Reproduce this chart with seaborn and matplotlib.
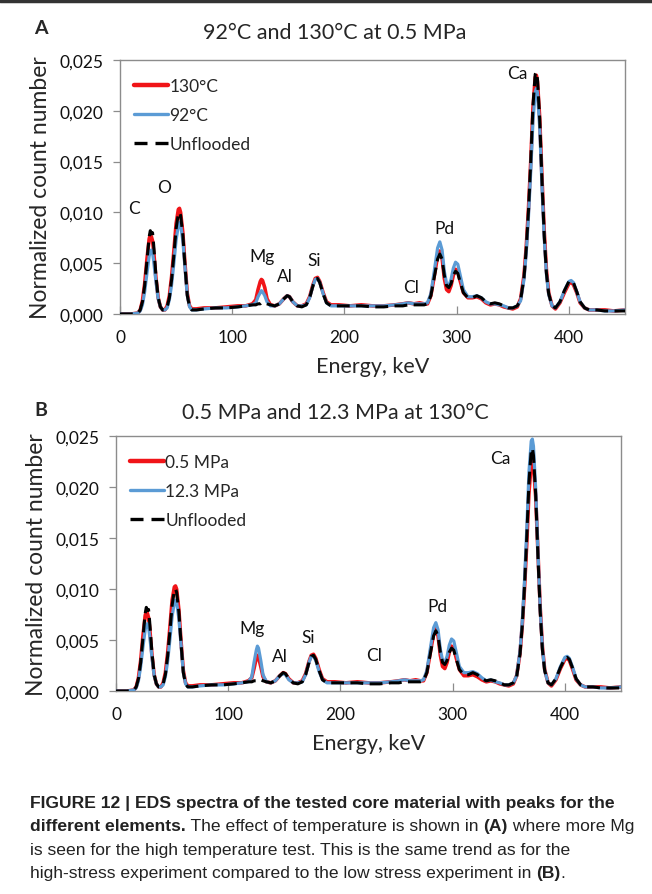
import matplotlib
matplotlib.use("Agg")
import matplotlib.pyplot as plt
from matplotlib.lines import Line2D
import seaborn as sns

sns.set_style("white")
plt.rcParams["font.family"] = ["Lato", "DejaVu Sans"]

# ---------------- data ----------------
energy_kev = [
    0, 10, 16, 18, 20, 22, 24, 26, 27, 28, 29, 30, 32, 34, 36, 38, 40,
    42, 44, 46, 48, 50, 52, 53, 54, 56, 58, 60, 62, 64, 68,
    75, 85, 95, 105, 112, 118,
    121, 123, 125, 126, 127, 129, 131, 134,
    138, 142, 146, 149, 151, 154,
    158, 162, 166, 169, 172, 174, 176, 178, 181, 184, 188,
    195, 205, 215, 225, 235, 245, 252, 257, 262, 267, 271,
    274, 277, 280, 283, 285, 287, 289, 291, 293, 295, 297, 299, 301, 303, 306, 310,
    314, 318, 322, 326, 330, 334, 338, 342, 346, 350, 354,
    357, 360, 362, 364, 366, 368, 370, 371, 372, 374, 376, 378, 380, 382, 385, 388,
    392, 396, 400, 402, 404, 407, 410, 414, 418, 425, 432, 440, 450,
]

unflooded = [
    0, 0, 0.0001, 0.0004, 0.0012, 0.0028, 0.0052, 0.0076, 0.0082, 0.0079, 0.0080, 0.0068, 0.0038, 0.0016, 0.0007, 0.0004, 0.0004,
    0.0007, 0.0016, 0.0034, 0.0058, 0.0084, 0.0099, 0.0100, 0.0097, 0.0078, 0.0046, 0.0018, 0.0007, 0.0004, 0.0004,
    0.0005, 0.0006, 0.0006, 0.0007, 0.0008, 0.0009,
    0.0009, 0.0010, 0.0010, 0.0011, 0.0011, 0.0011, 0.0010, 0.0009,
    0.0008, 0.0010, 0.0015, 0.0018, 0.0017, 0.0012,
    0.0008, 0.0007, 0.0009, 0.0016, 0.0028, 0.0034, 0.0035, 0.0031, 0.0020, 0.0011, 0.0008,
    0.0008, 0.0008, 0.0008, 0.0007, 0.0007, 0.0008, 0.0008, 0.0009, 0.0009, 0.0009, 0.0009,
    0.0010, 0.0018, 0.0036, 0.0054, 0.0059, 0.0054, 0.0038, 0.0028, 0.0026, 0.0030, 0.0038, 0.0042, 0.0040, 0.0032, 0.0021, 0.0016,
    0.0016, 0.0018, 0.0016, 0.0012, 0.0010, 0.0011, 0.0010, 0.0008, 0.0006, 0.0006, 0.0008,
    0.0014, 0.0036, 0.0064, 0.0102, 0.0150, 0.0205, 0.0236, 0.0238, 0.0231, 0.0192, 0.0132, 0.0078, 0.0040, 0.0020, 0.0008, 0.0006,
    0.0012, 0.0023, 0.0032, 0.0033, 0.0031, 0.0022, 0.0012, 0.0006, 0.0004, 0.0004, 0.0003, 0.0003, 0.0003,
]

# panel A: 130 °C and 92 °C at 0.5 MPa
temp_130c = [
    0, 0, 0.0001, 0.0004, 0.0013, 0.0030, 0.0054, 0.0074, 0.0078, 0.0076, 0.0072, 0.0062, 0.0036, 0.0016, 0.0007, 0.0004, 0.0004,
    0.0008, 0.0018, 0.0037, 0.0062, 0.0089, 0.0103, 0.0104, 0.0100, 0.0080, 0.0048, 0.0020, 0.0008, 0.0005, 0.0005,
    0.0006, 0.0006, 0.0007, 0.0008, 0.0008, 0.0010,
    0.0014, 0.0024, 0.0032, 0.0034, 0.0033, 0.0026, 0.0015, 0.0009,
    0.0008, 0.0010, 0.0015, 0.0018, 0.0017, 0.0012,
    0.0008, 0.0008, 0.0010, 0.0017, 0.0029, 0.0035, 0.0036, 0.0032, 0.0021, 0.0012, 0.0009,
    0.0009, 0.0008, 0.0009, 0.0008, 0.0008, 0.0009, 0.0010, 0.0011, 0.0010, 0.0011, 0.0010,
    0.0010, 0.0018, 0.0037, 0.0057, 0.0062, 0.0055, 0.0035, 0.0024, 0.0022, 0.0028, 0.0038, 0.0044, 0.0042, 0.0033, 0.0021, 0.0016,
    0.0016, 0.0017, 0.0015, 0.0011, 0.0009, 0.0010, 0.0009, 0.0007, 0.0006, 0.0005, 0.0007,
    0.0015, 0.0038, 0.0066, 0.0104, 0.0150, 0.0203, 0.0233, 0.0235, 0.0229, 0.0193, 0.0135, 0.0082, 0.0043, 0.0021, 0.0008, 0.0005,
    0.0011, 0.0021, 0.0030, 0.0031, 0.0029, 0.0021, 0.0011, 0.0006, 0.0004, 0.0004, 0.0004, 0.0003, 0.0004,
]

temp_92c = [
    0, 0, 0.0001, 0.0003, 0.0009, 0.0022, 0.0040, 0.0057, 0.0062, 0.0063, 0.0060, 0.0052, 0.0032, 0.0015, 0.0007, 0.0004, 0.0004,
    0.0006, 0.0014, 0.0029, 0.0050, 0.0073, 0.0087, 0.0090, 0.0088, 0.0072, 0.0044, 0.0018, 0.0007, 0.0004, 0.0004,
    0.0005, 0.0006, 0.0006, 0.0007, 0.0008, 0.0009,
    0.0011, 0.0017, 0.0021, 0.0023, 0.0022, 0.0018, 0.0012, 0.0008,
    0.0008, 0.0010, 0.0015, 0.0018, 0.0017, 0.0012,
    0.0008, 0.0008, 0.0009, 0.0016, 0.0028, 0.0034, 0.0035, 0.0031, 0.0020, 0.0011, 0.0008,
    0.0008, 0.0008, 0.0008, 0.0008, 0.0008, 0.0009, 0.0010, 0.0011, 0.0010, 0.0010, 0.0010,
    0.0011, 0.0020, 0.0042, 0.0065, 0.0071, 0.0063, 0.0042, 0.0030, 0.0028, 0.0034, 0.0045, 0.0051, 0.0049, 0.0039, 0.0024, 0.0017,
    0.0017, 0.0018, 0.0016, 0.0012, 0.0010, 0.0010, 0.0009, 0.0008, 0.0006, 0.0006, 0.0008,
    0.0013, 0.0034, 0.0060, 0.0096, 0.0140, 0.0190, 0.0218, 0.0222, 0.0218, 0.0183, 0.0126, 0.0075, 0.0039, 0.0019, 0.0008, 0.0006,
    0.0012, 0.0023, 0.0032, 0.0033, 0.0031, 0.0022, 0.0012, 0.0006, 0.0004, 0.0004, 0.0003, 0.0003, 0.0004,
]

# panel B: 0.5 MPa and 12.3 MPa at 130 °C
stress_05 = [
    0, 0, 0.0001, 0.0004, 0.0013, 0.0030, 0.0054, 0.0074, 0.0078, 0.0076, 0.0072, 0.0062, 0.0036, 0.0016, 0.0007, 0.0004, 0.0004,
    0.0008, 0.0018, 0.0037, 0.0062, 0.0089, 0.0102, 0.0103, 0.0100, 0.0080, 0.0048, 0.0020, 0.0008, 0.0005, 0.0005,
    0.0006, 0.0006, 0.0007, 0.0008, 0.0008, 0.0010,
    0.0013, 0.0022, 0.0032, 0.0035, 0.0033, 0.0024, 0.0014, 0.0009,
    0.0008, 0.0010, 0.0015, 0.0018, 0.0017, 0.0012,
    0.0008, 0.0008, 0.0010, 0.0017, 0.0029, 0.0035, 0.0036, 0.0032, 0.0021, 0.0012, 0.0009,
    0.0009, 0.0008, 0.0009, 0.0008, 0.0008, 0.0009, 0.0010, 0.0011, 0.0010, 0.0011, 0.0010,
    0.0010, 0.0018, 0.0037, 0.0056, 0.0061, 0.0054, 0.0035, 0.0024, 0.0022, 0.0028, 0.0038, 0.0044, 0.0042, 0.0033, 0.0021, 0.0015,
    0.0015, 0.0016, 0.0014, 0.0011, 0.0009, 0.0010, 0.0009, 0.0007, 0.0006, 0.0005, 0.0007,
    0.0015, 0.0037, 0.0064, 0.0100, 0.0144, 0.0195, 0.0222, 0.0226, 0.0222, 0.0190, 0.0135, 0.0082, 0.0043, 0.0021, 0.0008, 0.0005,
    0.0011, 0.0022, 0.0031, 0.0032, 0.0030, 0.0021, 0.0011, 0.0006, 0.0004, 0.0004, 0.0004, 0.0003, 0.0004,
]

stress_123 = [
    0, 0, 0.0001, 0.0003, 0.0010, 0.0024, 0.0043, 0.0060, 0.0065, 0.0066, 0.0063, 0.0054, 0.0033, 0.0015, 0.0007, 0.0004, 0.0004,
    0.0006, 0.0014, 0.0029, 0.0050, 0.0073, 0.0087, 0.0089, 0.0087, 0.0071, 0.0044, 0.0018, 0.0007, 0.0004, 0.0004,
    0.0005, 0.0006, 0.0006, 0.0007, 0.0008, 0.0009,
    0.0014, 0.0028, 0.0040, 0.0044, 0.0042, 0.0030, 0.0016, 0.0009,
    0.0008, 0.0010, 0.0015, 0.0017, 0.0016, 0.0011,
    0.0008, 0.0008, 0.0009, 0.0016, 0.0028, 0.0034, 0.0034, 0.0030, 0.0019, 0.0011, 0.0008,
    0.0008, 0.0008, 0.0008, 0.0008, 0.0008, 0.0009, 0.0010, 0.0011, 0.0010, 0.0010, 0.0010,
    0.0011, 0.0020, 0.0041, 0.0062, 0.0067, 0.0060, 0.0041, 0.0030, 0.0028, 0.0034, 0.0045, 0.0051, 0.0049, 0.0039, 0.0024, 0.0018,
    0.0018, 0.0019, 0.0017, 0.0013, 0.0010, 0.0011, 0.0009, 0.0008, 0.0006, 0.0006, 0.0008,
    0.0015, 0.0039, 0.0068, 0.0108, 0.0158, 0.0215, 0.0245, 0.0247, 0.0240, 0.0198, 0.0136, 0.0080, 0.0041, 0.0020, 0.0008, 0.0006,
    0.0012, 0.0024, 0.0033, 0.0034, 0.0032, 0.0023, 0.0012, 0.0006, 0.0004, 0.0004, 0.0003, 0.0003, 0.0004,
]

y_ticks = [0.0, 0.005, 0.010, 0.015, 0.020, 0.025]
y_tick_labels = ["0,000", "0,005", "0,010", "0,015", "0,020", "0,025"]
x_ticks = [0, 100, 200, 300, 400]

peaks_a = [("C", 12.9, 0.0104), ("O", 39.6, 0.0125), ("Mg", 126.4, 0.0057),
           ("Al", 146.9, 0.0037), ("Si", 173.0, 0.0053), ("Cl", 259.2, 0.0027),
           ("Pd", 289.0, 0.0085), ("Ca", 354.3, 0.0237)]
peaks_b = [("Mg", 121.2, 0.0062), ("Al", 146.3, 0.0034), ("Si", 171.5, 0.0053),
           ("Cl", 229.8, 0.0035), ("Pd", 286.5, 0.0083), ("Ca", 342.6, 0.0228)]

RED = "#f01418"
BLUE = "#5b9bd5"
BLACK = "#000000"
SPINE = "#8c8c8c"

W, H = 652, 895
fig = plt.figure(figsize=(W / 100, H / 100), dpi=100)


def px_box(left, top, right, bottom):
    return [left / W, 1 - bottom / H, (right - left) / W, (bottom - top) / H]


def panel(box, red_vals, blue_vals, labels, peaks, title, letter, letter_xy, title_y):
    ax = fig.add_axes(px_box(*box))
    sns.lineplot(x=energy_kev, y=red_vals, ax=ax, color=RED, linewidth=2.6,
                 estimator=None, sort=False, zorder=2)
    sns.lineplot(x=energy_kev, y=blue_vals, ax=ax, color=BLUE, linewidth=2.3,
                 estimator=None, sort=False, zorder=3)
    sns.lineplot(x=energy_kev, y=unflooded, ax=ax, color=BLACK, linewidth=2.2,
                 estimator=None, sort=False, zorder=4)
    ax.lines[-1].set_dashes((4.2, 2.1))
    ax.set_xlim(0, 450)
    ax.set_ylim(0, 0.025)
    ax.set_xticks(x_ticks)
    ax.set_xticklabels([str(t) for t in x_ticks])
    ax.set_yticks(y_ticks)
    ax.set_yticklabels(y_tick_labels)
    ax.tick_params(axis="x", direction="in", length=6, width=0.9, color=SPINE,
                   labelsize=12.5, pad=11, labelcolor="#111111")
    ax.tick_params(axis="y", direction="out", length=5, width=0.9, color=SPINE,
                   labelsize=12.5, pad=7, labelcolor="#111111")
    ax.tick_params(bottom=True, left=True)
    for s in ax.spines.values():
        s.set_color(SPINE)
        s.set_linewidth(1.0)
    ax.set_xlabel("Energy, keV", fontsize=15.5, labelpad=8)
    ax.set_ylabel("Normalized count number", fontsize=16.5, labelpad=6)
    for name, x, y in peaks:
        ax.text(x, y, name, fontsize=12.5, ha="center", va="center", color="#111111")
    handles = [Line2D([], [], color=RED, lw=3.2),
               Line2D([], [], color=BLUE, lw=2.4),
               Line2D([], [], color=BLACK, lw=2.4, dashes=(3.9, 2.4))]
    ax.legend(handles, labels, loc="upper left", bbox_to_anchor=(0.0, 0.985),
              frameon=False, fontsize=12.5, handlelength=1.95, handletextpad=0.1,
              labelspacing=0.75, borderaxespad=0.4)
    fig.text(letter_xy[0] / W, 1 - letter_xy[1] / H, letter, fontsize=14,
             fontweight="bold", ha="left", va="center")
    fig.text(335 / W, 1 - title_y / H, title, fontsize=15.5, ha="center", va="center")
    return ax


panel((120, 61, 625, 315), temp_130c, temp_92c, ["130°C", "92°C", "Unflooded"],
      peaks_a, "92°C and 130°C at 0.5 MPa", "A", (34, 28), 33)
panel((116, 437, 621, 692), stress_05, stress_123, ["0.5 MPa", "12.3 MPa", "Unflooded"],
      peaks_b, "0.5 MPa and 12.3 MPa at 130°C", "B", (34, 410), 413)

# frame rule across the top of the page
fig.add_artist(Line2D([0, 1], [1 - 1.5 / H, 1 - 1.5 / H], transform=fig.transFigure,
                      color="#333333", linewidth=2.5))

# caption with mixed bold / regular runs
cap_font = ["Liberation Sans Narrow", "Liberation Sans", "DejaVu Sans"]
cap_lines = [
    [("FIGURE 12 | EDS spectra of the tested core material with peaks for the", "bold")],
    [("different elements.", "bold"), (" The effect of temperature is shown in ", "normal"),
     ("(A)", "bold"), (" where more Mg", "normal")],
    [("is seen for the high temperature test. This is the same trend as for the", "normal")],
    [("high-stress experiment compared to the low stress experiment in ", "normal"),
     ("(B)", "bold"), (".", "normal")],
]
cap_x0 = 30
cap_y0 = 808
cap_dy = 23.5
fig.canvas.draw()
renderer = fig.canvas.get_renderer()
for i, runs in enumerate(cap_lines):
    y = 1 - (cap_y0 + i * cap_dy) / H
    x_px = cap_x0
    for text, weight in runs:
        t = fig.text(x_px / W, y, text, fontsize=12.6, fontweight=weight,
                     family=cap_font, color="#222222", ha="left", va="baseline")
        x_px += t.get_window_extent(renderer).width

fig.savefig("out.png", dpi=100)
